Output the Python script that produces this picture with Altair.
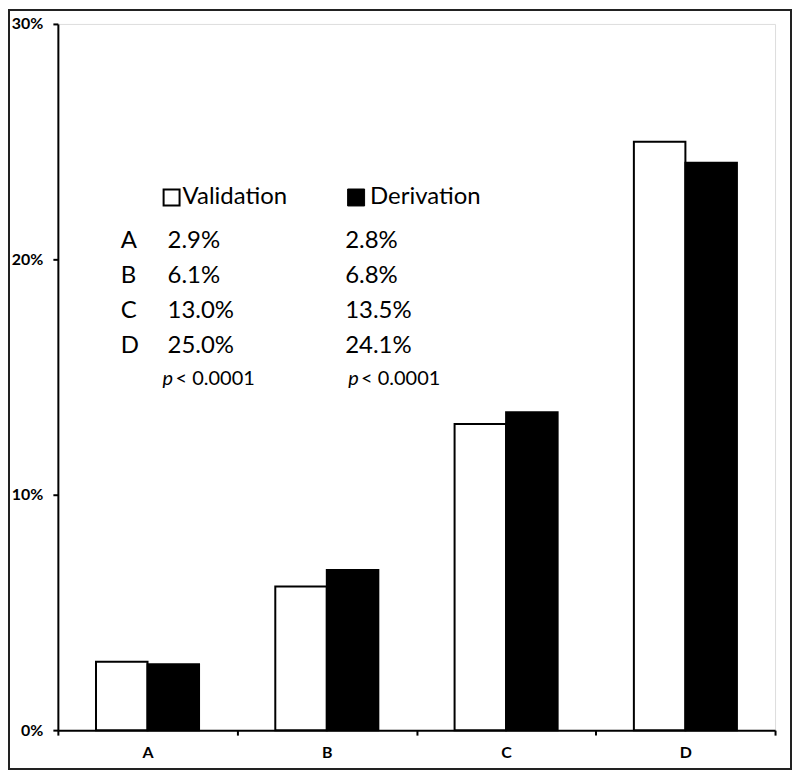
import altair as alt
import pandas as pd

categories = ["A", "B", "C", "D"]
series = ["Validation", "Derivation"]
validation = [0.029, 0.061, 0.130, 0.250]
derivation = [0.028, 0.068, 0.135, 0.241]
val_labels = ["2.9%", "6.1%", "13.0%", "25.0%"]
der_labels = ["2.8%", "6.8%", "13.5%", "24.1%"]
y_ticks = [0, 0.1, 0.2, 0.3]
p_rest = "< 0.0001"

rows = []
for c, v, d in zip(categories, validation, derivation):
    rows.append({"cat": c, "series": "Validation", "value": v})
    rows.append({"cat": c, "series": "Derivation", "value": d})
bars_df = pd.DataFrame(rows)

table_df = pd.DataFrame({
    "idx": list(range(len(categories))),
    "letter": categories,
    "val": val_labels,
    "der": der_labels,
})

W, H = 719, 708
FONT = "Lato"
TFS = 24

bars = alt.Chart(bars_df).mark_bar(stroke="black", strokeWidth=2).encode(
    x=alt.X("cat:N", sort=categories,
            scale=alt.Scale(paddingInner=0, paddingOuter=0),
            axis=alt.Axis(title=None, labelAngle=0, tickBand="extent",
                          labelFont=FONT, labelFontSize=16, labelFontWeight="bold",
                          labelColor="black", labelPadding=9, tickSize=5,
                          tickWidth=2, tickColor="black", domainColor="black",
                          domainWidth=2)),
    xOffset=alt.XOffset("series:N", sort=series,
                        scale=alt.Scale(paddingInner=0, paddingOuter=0.74)),
    y=alt.Y("value:Q", scale=alt.Scale(domain=[0, 0.3]),
            axis=alt.Axis(values=y_ticks, format=".0%", title=None, grid=False,
                          labelFont=FONT, labelFontSize=16, labelFontWeight="bold",
                          labelColor="black", labelPadding=10, tickSize=5,
                          tickWidth=2, tickColor="black", domainColor="black",
                          domainWidth=2)),
    fill=alt.Fill("series:N", scale=alt.Scale(domain=series, range=["white", "black"]),
                  legend=None),
)

row_y = alt.Y("idx:Q", scale=alt.Scale(domain=[0, 3], range=[218, 323]), axis=None)

letters = alt.Chart(table_df).mark_text(align="left", baseline="middle", font=FONT,
                                        fontSize=TFS, color="black").encode(
    x=alt.value(63), y=row_y, text="letter:N")
vals = alt.Chart(table_df).mark_text(align="left", baseline="middle", font=FONT,
                                     fontSize=TFS, color="black").encode(
    x=alt.value(110), y=row_y, text="val:N")
ders = alt.Chart(table_df).mark_text(align="left", baseline="middle", font=FONT,
                                     fontSize=TFS, color="black").encode(
    x=alt.value(288), y=row_y, text="der:N")

one = alt.Data(values=[{"a": 1}])

hdr_val = alt.Chart(one).mark_text(align="left", baseline="middle", font=FONT,
                                   fontSize=TFS, color="black", text=series[0]).encode(
    x=alt.value(125), y=alt.value(174))
hdr_der = alt.Chart(one).mark_text(align="left", baseline="middle", font=FONT,
                                   fontSize=TFS, color="black", text=series[1]).encode(
    x=alt.value(313), y=alt.value(174))
sq_val = alt.Chart(one).mark_square(size=256, fill="white", stroke="black",
                                    strokeWidth=2, opacity=1).encode(
    x=alt.value(114), y=alt.value(174))
sq_der = alt.Chart(one).mark_square(size=289, fill="black", stroke="black",
                                    strokeWidth=1, opacity=1).encode(
    x=alt.value(299), y=alt.value(174))

p1 = alt.Chart(one).mark_text(align="left", baseline="middle", font=FONT,
                              fontSize=20, fontStyle="italic", color="black", text="p").encode(
    x=alt.value(105), y=alt.value(356))
r1 = alt.Chart(one).mark_text(align="left", baseline="middle", font=FONT,
                              fontSize=20, color="black", text=p_rest).encode(
    x=alt.value(118), y=alt.value(356))
p2 = alt.Chart(one).mark_text(align="left", baseline="middle", font=FONT,
                              fontSize=20, fontStyle="italic", color="black", text="p").encode(
    x=alt.value(291), y=alt.value(356))
r2 = alt.Chart(one).mark_text(align="left", baseline="middle", font=FONT,
                              fontSize=20, color="black", text=p_rest).encode(
    x=alt.value(304), y=alt.value(356))

frame = alt.Chart(one).mark_rect(fillOpacity=0, stroke="#222222", strokeWidth=2).encode(
    x=alt.value(-49), x2=alt.value(W + 16), y=alt.value(-14), y2=alt.value(H + 39))

chart = alt.layer(
    bars, letters, vals, ders, hdr_val, hdr_der, sq_val, sq_der, p1, r1, p2, r2, frame
).resolve_scale(y="independent").properties(
    width=W, height=H,
    autosize=alt.AutoSizeParams(type="none"),
    padding={"left": 50, "top": 15, "right": 17, "bottom": 40},
).configure_view(stroke=None).configure(background="white")

chart.save("out.html", embed_options={"renderer": "svg", "actions": False})
